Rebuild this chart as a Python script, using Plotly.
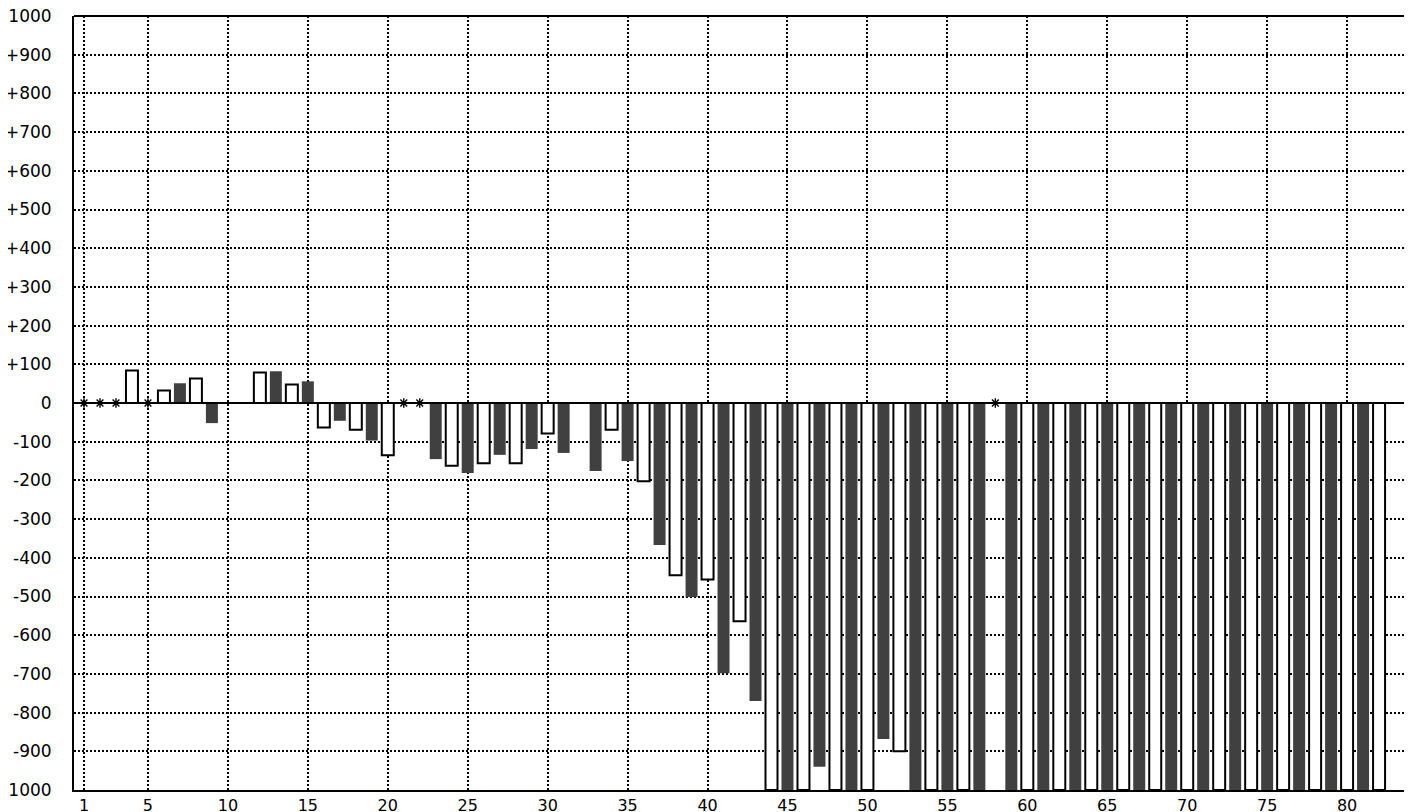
import plotly.graph_objects as go

positions = list(range(1, 83))
values = [
    0, 0, 0, 84, 0, 32, 51, 63, -52, None,
    None, 79, 82, 48, 56, -63, -46, -69, -97, -135,
    0, 0, -145, -162, -181, -156, -134, -156, -119, -79,
    -129, None, -176, -69, -150, -202, -367, -445, -501, -456,
    -698, -564, -770, -1000, -1000, -1000, -940, -1000, -1000, -1000,
    -868, -900, -1000, -1000, -1000, -1000, -1000, 0, -1000, -1000,
    -1000, -1000, -1000, -1000, -1000, -1000, -1000, -1000, -1000, -1000,
    -1000, -1000, -1000, -1000, -1000, -1000, -1000, -1000, -1000, -1000,
    -1000, -1000,
]
x_tick_vals = [1, 5, 10, 15, 20, 25, 30, 35, 40, 45, 50, 55, 60, 65, 70, 75, 80]
y_tick_vals = list(range(-1000, 1001, 100))
y_tick_text = [("+" + str(v)) if v > 0 else str(v) for v in y_tick_vals]

white_x = [p for p, v in zip(positions, values) if v not in (None, 0) and p % 2 == 0]
white_y = [v for p, v in zip(positions, values) if v not in (None, 0) and p % 2 == 0]
dark_x = [p for p, v in zip(positions, values) if v not in (None, 0) and p % 2 == 1]
dark_y = [v for p, v in zip(positions, values) if v not in (None, 0) and p % 2 == 1]
zero_x = [p for p, v in zip(positions, values) if v == 0]
zero_y = [0 for p in zero_x]

FONT = "DejaVu Sans"

fig = go.Figure()
fig.add_trace(go.Bar(x=white_x, y=white_y, width=0.75,
                     marker=dict(color="white", line=dict(color="black", width=2)),
                     showlegend=False))
fig.add_trace(go.Bar(x=dark_x, y=dark_y, width=0.75,
                     marker=dict(color="#404040", line=dict(width=0)),
                     showlegend=False))
fig.add_trace(go.Scatter(x=zero_x, y=zero_y, mode="markers",
                         marker=dict(symbol="asterisk-open", size=8, color="black",
                                     line=dict(color="black", width=1.4)),
                         showlegend=False))

fig.update_layout(
    width=1412, height=812,
    margin=dict(l=66, r=8, t=8, b=30, autoexpand=False),
    paper_bgcolor="white", plot_bgcolor="white",
    barmode="overlay",
    font=dict(family=FONT, size=17, color="black"),
    xaxis=dict(range=[0.375, 84.06], tickvals=x_tick_vals,
               ticktext=[str(v) for v in x_tick_vals],
               showgrid=True, gridcolor="black", gridwidth=2, griddash="2px,2px",
               showline=True, linecolor="black", linewidth=2,
               ticks="", ticklabeloverflow="allow",
               automargin=False,
               zeroline=False, layer="above traces",
               tickfont=dict(family=FONT, size=16, color="black")),
    yaxis=dict(range=[-1000, 1000], tickvals=y_tick_vals, ticktext=y_tick_text,
               showgrid=True, gridcolor="black", gridwidth=2, griddash="2px,2px",
               showline=True, linecolor="black", linewidth=2,
               ticks="outside", ticklen=17, tickcolor="rgba(0,0,0,0)",
               ticklabeloverflow="allow",
               automargin=False,
               zeroline=False, layer="above traces",
               tickfont=dict(family=FONT, size=17, color="black")),
    shapes=[
        dict(type="line", xref="paper", yref="y", x0=0, x1=1, y0=0, y1=0,
             line=dict(color="black", width=2), layer="above"),
        dict(type="line", xref="paper", yref="paper", x0=0, x1=1, y0=1, y1=1,
             line=dict(color="black", width=2), layer="above"),
    ],
)

fig.write_html("out.html")
